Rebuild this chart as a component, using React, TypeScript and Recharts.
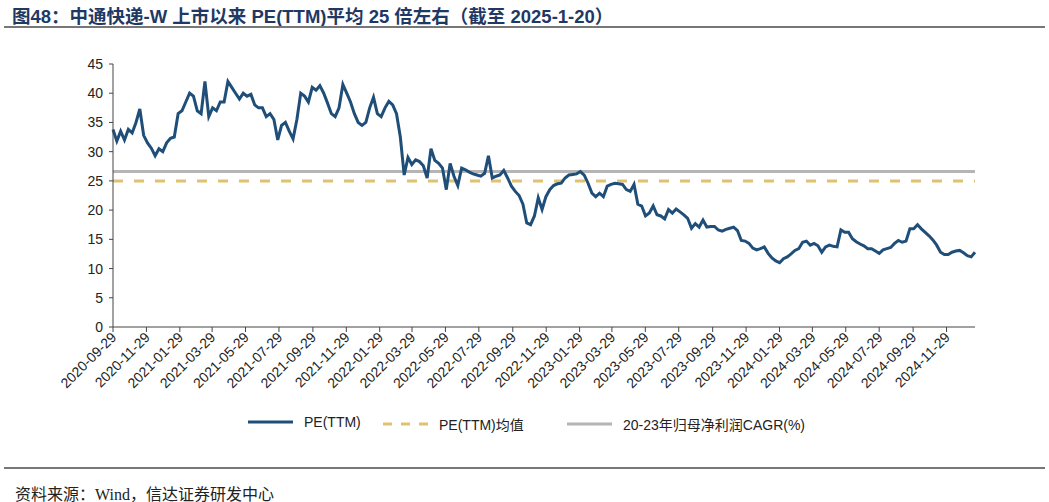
import { LineChart, Line, XAxis, YAxis } from "recharts";

// PE(TTM), roughly one value a week from start to end date
const startDate = "2020-09-29";
const endDate = "2025-01-20";
const peTTM = [
  33.8, 31.8, 33.5, 32, 33.8, 33.2, 35, 37.3, 32.8, 31.5,
  30.6, 29.3, 30.5, 30, 31.5, 32.3, 32.5, 36.5, 37, 38.5,
  40, 39.5, 37, 36.5, 42, 36, 37.5, 37, 38.5, 38.5,
  42, 41, 40, 39, 40, 39.5, 39.8, 38, 37.5, 37.5,
  36, 36.5, 35.5, 32, 34.5, 35, 33.5, 32.2, 35.5, 40,
  39.5, 38.5, 41, 40.5, 41.3, 40, 38.3, 36.5, 36, 37.5,
  41.5, 40, 38.5, 36.5, 35, 34.5, 35, 37.5, 39.3, 36.5,
  36, 37.5, 38.6, 38, 36.5, 32.5, 26, 29, 27.8, 28.6,
  28.3, 27.6, 25.5, 30.5, 28.5, 28, 27.2, 23.5, 28, 25.8,
  24.2, 27.2, 26.9, 26.5, 26.2, 26, 25.8, 26.3, 29.3, 25.5,
  25.8, 26, 26.8, 25.5, 24.1, 23.2, 22.5, 21, 17.8, 17.5,
  19, 22.1, 20.1, 22.3, 23.5, 24.2, 24.5, 24.6, 25.5, 26,
  26.1, 26.2, 26.6, 26, 24.6, 22.9, 22.3, 22.9, 22.3, 24.1,
  24.4, 24.6, 24.5, 24.4, 23.5, 23.2, 24.4, 21, 20.7, 19,
  19.5, 20.7, 19.2, 19, 18.5, 20.1, 19.5, 20.2, 19.7, 19.2,
  18.6, 16.9, 17.7, 17.1, 18.3, 17.1, 17.2, 17.2, 16.6, 16.4,
  16.7, 16.9, 17.1, 16.5, 14.8, 14.7, 14.3, 13.5, 13.2, 13.4,
  13.7, 12.6, 11.8, 11.3, 11, 11.7, 12, 12.5, 13.1, 13.4,
  14.5, 14.7, 14, 14.3, 13.9, 12.8, 13.7, 14, 13.8, 13.7,
  16.6, 16.2, 16.2, 15.1, 14.6, 14.2, 13.9, 13.4, 13.4, 13,
  12.6, 13.2, 13.4, 13.6, 14.3, 14.8, 14.5, 14.7, 16.8, 16.8,
  17.5, 16.8, 16.2, 15.6, 14.9, 14, 12.8, 12.4, 12.4, 12.8,
  13, 13.1, 12.7, 12.2, 12, 12.8,
];
const peMean = 25;
const profitCagr = 26.6;

const xTickLabels = [
  "2020-09-29", "2020-11-29", "2021-01-29", "2021-03-29", "2021-05-29",
  "2021-07-29", "2021-09-29", "2021-11-29", "2022-01-29", "2022-03-29",
  "2022-05-29", "2022-07-29", "2022-09-29", "2022-11-29", "2023-01-29",
  "2023-03-29", "2023-05-29", "2023-07-29", "2023-09-29", "2023-11-29",
  "2024-01-29", "2024-03-29", "2024-05-29", "2024-07-29", "2024-09-29",
  "2024-11-29",
];
const yTicks = [0, 5, 10, 15, 20, 25, 30, 35, 40, 45];

const toTime = (s: string) => {
  const [y, m, d] = s.split("-").map(Number);
  return Date.UTC(y, m - 1, d);
};

const t0 = toTime(startDate);
const t1 = toTime(endDate);
const step = (t1 - t0) / (peTTM.length - 1);
const data = peTTM.map((v, i) => ({
  t: t0 + i * step,
  pe: v,
  mean: peMean,
  cagr: profitCagr,
}));

const fmtDate = (ms: number) => {
  const d = new Date(ms);
  const mm = String(d.getUTCMonth() + 1).padStart(2, "0");
  const dd = String(d.getUTCDate()).padStart(2, "0");
  return `${d.getUTCFullYear()}-${mm}-${dd}`;
};

const FONT = "'Liberation Sans', Arial, 'Noto Sans CJK SC', sans-serif";
const BLUE = "#1f4e79";
const GOLD = "#e0c172";
const GREY = "#b5b5b5";

function DateTick({ x, y, payload }: any) {
  return (
    <text
      x={x}
      y={y}
      dy={6}
      textAnchor="end"
      transform={`rotate(-45 ${x} ${y})`}
      fontSize={14}
      fontFamily={FONT}
      fill="#222"
    >
      {fmtDate(payload.value)}
    </text>
  );
}

function LegendItem({ left, color, dash, label }: { left: number; color: string; dash?: string; label: string }) {
  return (
    <div style={{ position: "absolute", left, top: 0, display: "flex", alignItems: "center" }}>
      <svg width={45} height={8} style={{ marginRight: 11 }}>
        <line x1={0} y1={4} x2={45} y2={4} stroke={color} strokeWidth={3} strokeDasharray={dash} />
      </svg>
      <span>{label}</span>
    </div>
  );
}

export default function App() {
  return (
    <div
      style={{
        position: "absolute",
        left: 0,
        top: 0,
        width: 1049,
        height: 502,
        background: "#fff",
        fontFamily: FONT,
      }}
    >
      <div
        style={{
          position: "absolute",
          left: 12,
          top: 2,
          fontSize: 18.5,
          fontWeight: "bold",
          color: "#1f3864",
          whiteSpace: "nowrap",
        }}
      >
        图48：中通快递-W 上市以来 PE(TTM)平均 25 倍左右（截至 2025-1-20）
      </div>
      <div style={{ position: "absolute", left: 4, top: 26, width: 1041, height: 2, background: "#777" }} />

      <div style={{ position: "absolute", left: 0, top: 0 }}>
        <LineChart
          width={1049}
          height={460}
          data={data}
          margin={{ top: 64, right: 74, bottom: 0, left: 0 }}
        >
          <XAxis
            dataKey="t"
            type="number"
            domain={[t0, t1]}
            ticks={xTickLabels.map(toTime)}
            tick={<DateTick />}
            tickSize={5}
            tickMargin={2}
            height={133}
            axisLine={{ stroke: "#444" }}
            tickLine={{ stroke: "#444" }}
            interval={0}
          />
          <YAxis
            type="number"
            domain={[0, 45]}
            ticks={yTicks}
            width={113}
            tickSize={4}
            tickMargin={6}
            axisLine={{ stroke: "#444" }}
            tickLine={{ stroke: "#444" }}
            tick={{ fontSize: 14, fill: "#222", fontFamily: FONT }}
          />
          <Line
            dataKey="cagr"
            stroke={GREY}
            strokeWidth={3}
            dot={false}
            isAnimationActive={false}
          />
          <Line
            dataKey="mean"
            stroke={GOLD}
            strokeWidth={3}
            strokeDasharray="10 11"
            dot={false}
            isAnimationActive={false}
          />
          <Line
            dataKey="pe"
            stroke={BLUE}
            strokeWidth={3}
            dot={false}
            isAnimationActive={false}
          />
        </LineChart>
      </div>

      <div
        style={{
          position: "absolute",
          left: 0,
          top: 414,
          width: 1049,
          height: 20,
          fontSize: 14,
          color: "#222",
          whiteSpace: "nowrap",
        }}
      >
        <LegendItem left={248} color={BLUE} label="PE(TTM)" />
        <LegendItem left={383} color={GOLD} dash="9 9" label="PE(TTM)均值" />
        <LegendItem left={567} color={GREY} label="20-23年归母净利润CAGR(%)" />
      </div>

      <div style={{ position: "absolute", left: 4, top: 467, width: 1041, height: 2, background: "#777" }} />
      <div
        style={{
          position: "absolute",
          left: 15,
          top: 481,
          fontSize: 16,
          color: "#222",
          fontFamily: "'Liberation Serif', 'Noto Sans CJK SC', serif",
          whiteSpace: "nowrap",
        }}
      >
        资料来源：Wind，信达证券研发中心
      </div>
    </div>
  );
}
